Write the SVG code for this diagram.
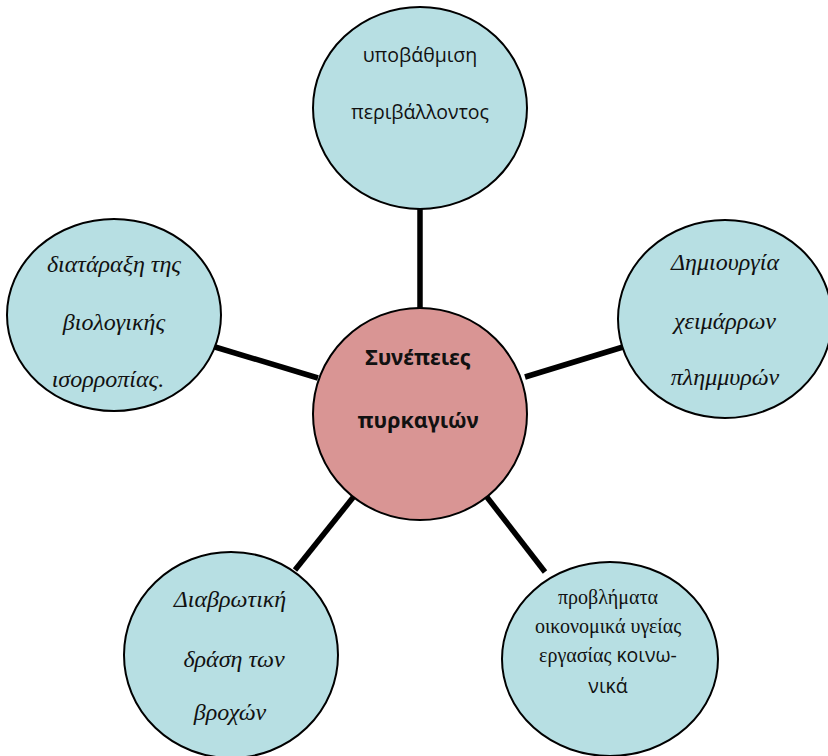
<svg xmlns="http://www.w3.org/2000/svg" width="828" height="756" viewBox="0 0 828 756">
<style>
.node{fill:#B7DFE3;stroke:#000;stroke-width:2}
.hub{fill:#D99594;stroke:#000;stroke-width:2}
.conn{stroke:#000;stroke-width:5.5;stroke-linecap:butt;fill:none}
.sans{font-family:'Open Sans','Noto Sans',sans-serif;font-size:19.5px;fill:#111;text-anchor:middle}
.it{font-family:'Liberation Serif',serif;font-style:italic;font-size:24px;fill:#111;text-anchor:middle}
.ser{font-family:'Liberation Serif',serif;font-size:20px;fill:#111;text-anchor:middle}
.bold{font-family:'Noto Sans','Open Sans',sans-serif;font-weight:bold;font-size:21.5px;fill:#111;text-anchor:middle}
.s2{font-family:'Open Sans','Noto Sans',sans-serif;font-size:19.5px}
</style>
<rect width="828" height="756" fill="#fff"/>
<g id="connectors">
<line class="conn" x1="420" y1="209" x2="420" y2="310"/>
<line class="conn" x1="215" y1="347" x2="318" y2="378"/>
<line class="conn" x1="525" y1="377" x2="623" y2="347"/>
<line class="conn" x1="359" y1="490" x2="295" y2="570"/>
<line class="conn" x1="483" y1="492" x2="545" y2="572"/>
</g>
<g id="top">
<ellipse class="node" cx="420" cy="108" rx="107" ry="101"/>
<text class="sans" x="420" y="62">υποβάθμιση</text>
<text class="sans" x="420" y="119">περιβάλλοντος</text>
</g>
<g id="left">
<ellipse class="node" cx="114" cy="315" rx="107" ry="96"/>
<text class="it" x="114" y="272">διατάραξη της</text>
<text class="it" x="114" y="330">βιολογικής</text>
<text class="it" x="108" y="387">ισορροπίας.</text>
</g>
<g id="right">
<ellipse class="node" cx="725" cy="319" rx="107" ry="99"/>
<text class="it" x="725" y="270">Δημιουργία</text>
<text class="it" x="725" y="329">χειμάρρων</text>
<text class="it" x="725" y="385">πλημμυρών</text>
</g>
<g id="bottom-left">
<ellipse class="node" cx="231" cy="655" rx="107" ry="103"/>
<text class="it" x="230" y="607">Διαβρωτική</text>
<text class="it" x="234" y="667">δράση των</text>
<text class="it" x="230" y="720">βροχών</text>
</g>
<g id="bottom-right">
<ellipse class="node" cx="610" cy="659" rx="108" ry="97"/>
<text class="ser" x="608" y="604">προβλήματα</text>
<text class="ser" x="608" y="633">οικονομικά υγείας</text>
<text class="ser" x="608" y="662">εργασίας <tspan class="s2">κοινω-</tspan></text>
<text class="sans" x="608" y="693">νικά</text>
</g>
<g id="hub">
<ellipse class="hub" cx="420" cy="414" rx="107" ry="106"/>
<text class="bold" x="418" y="365">Συνέπειες</text>
<text class="bold" x="418" y="428">πυρκαγιών</text>
</g>
</svg>
